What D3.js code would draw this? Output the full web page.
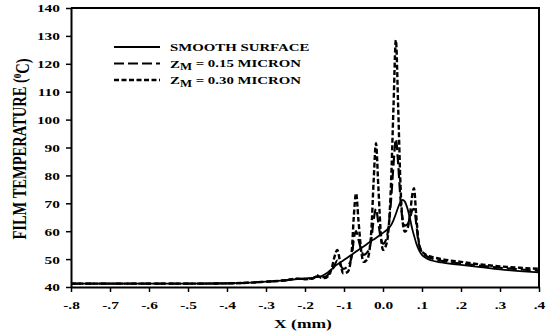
<!DOCTYPE html>
<html>
<head>
<meta charset="utf-8">
<script src="https://cdn.jsdelivr.net/npm/d3@7"></script>
<style>
  html, body { margin: 0; padding: 0; background: #fff; }
  svg { display: block; }
  text { font-family: "Liberation Serif", "Times New Roman", serif; font-weight: bold; fill: #000; }
</style>
</head>
<body>
<div id="chart"></div>
<script>
// x positions (mm), shared by all three series
const xs = [-0.8, -0.7, -0.6, -0.5, -0.4, -0.35, -0.3, -0.25, -0.22, -0.2, -0.18, -0.17, -0.16, -0.15, -0.14,
  -0.13, -0.125, -0.117, -0.11, -0.102, -0.09, -0.08, -0.075, -0.069, -0.063, -0.055, -0.05, -0.04, -0.03,
  -0.024, -0.018, -0.012, -0.005, 0.0, 0.01, 0.02, 0.027, 0.033, 0.039, 0.045, 0.05, 0.056, 0.063, 0.07,
  0.075, 0.0795, 0.085, 0.09, 0.095, 0.1, 0.11, 0.125, 0.15, 0.2, 0.25, 0.3, 0.35, 0.4];

// film temperature (C)
const smooth = [41.2, 41.2, 41.2, 41.2, 41.3, 41.5, 41.9, 42.4, 42.8, 43.1, 43.3, 43.5, 43.8, 44.5, 45.4,
  46.6, 47.2, 48.1, 48.8, 49.5, 50.7, 51.6, 52.1, 52.7, 53.3, 54.0, 54.5, 55.5, 56.5,
  57.0, 57.6, 58.2, 58.9, 59.4, 60.5, 62.0, 64.0, 66.2, 68.6, 70.5, 71.2, 70.6, 68.0, 64.0,
  60.8, 58.5, 55.8, 53.9, 52.5, 51.5, 50.4, 49.5, 48.8, 47.9, 47.1, 46.3, 45.7, 45.2];

const zm015 = [41.2, 41.2, 41.2, 41.2, 41.3, 41.5, 41.9, 42.4, 42.9, 42.9, 43.1, 43.8, 43.5, 43.6, 44.5,
  46.0, 47.5, 49.5, 48.0, 46.5, 47.5, 51.0, 57.0, 60.0, 57.0, 53.0, 51.5, 52.5, 57.0,
  64.0, 68.0, 63.0, 57.0, 55.5, 58.0, 70.0, 84.0, 93.0, 84.0, 71.0, 64.5, 62.0, 62.5, 65.0,
  67.5, 68.0, 63.0, 57.0, 54.0, 52.5, 51.2, 50.2, 49.4, 48.4, 47.6, 46.9, 46.3, 45.8];

const zm030 = [41.2, 41.2, 41.2, 41.2, 41.3, 41.5, 41.9, 42.4, 43.0, 42.8, 43.0, 44.2, 43.4, 43.2, 44.0,
  47.5, 50.5, 53.3, 49.0, 44.9, 45.5, 53.0, 65.0, 73.6, 64.0, 52.0, 49.0, 50.0, 60.0,
  78.0, 91.5, 76.0, 58.0, 53.3, 56.0, 75.0, 105.0, 128.5, 104.0, 76.0, 64.0, 59.8, 61.0, 67.0,
  73.0, 75.4, 66.0, 58.0, 54.0, 52.8, 51.6, 50.8, 50.0, 49.0, 48.1, 47.4, 46.9, 46.5];

const xTicks = [-0.8, -0.7, -0.6, -0.5, -0.4, -0.3, -0.2, -0.1, 0.0, 0.1, 0.2, 0.3, 0.4];
const xTickLabels = ["-.8", "-.7", "-.6", "-.5", "-.4", "-.3", "-.2", "-.1", "0.0", ".1", ".2", ".3", ".4"];
const yTicks = [40, 50, 60, 70, 80, 90, 100, 110, 120, 130, 140];

const series = [
  { values: smooth, dash: null, width: 1.8 },
  { values: zm015, dash: "10,4", width: 2.2 },
  { values: zm030, dash: "5,2.5", width: 2.4 }
];

const W = 547, H = 336;
const SX = 1.4; // text in the picture is stretched horizontally

const x = d3.scaleLinear().domain([-0.8, 0.4]).range([71, 539]);
const y = d3.scaleLinear().domain([40, 140]).range([287, 8]);

const svg = d3.select("#chart").append("svg")
  .attr("width", W)
  .attr("height", H);

// frame (top and right)
svg.append("path")
  .attr("d", `M${x.range()[0]},${y.range()[1]}H${x.range()[1]}V${y.range()[0]}`)
  .attr("fill", "none")
  .attr("stroke", "#000")
  .attr("stroke-width", 2);

// curves
const line = d3.line()
  .x((d, i) => x(xs[i]))
  .y(d => y(d))
  .curve(d3.curveMonotoneX);

svg.append("g")
  .selectAll("path")
  .data(series)
  .join("path")
  .attr("d", d => line(d.values))
  .attr("fill", "none")
  .attr("stroke", "#000")
  .attr("stroke-width", d => d.width)
  .attr("stroke-dasharray", d => d.dash);

// x axis
const xAxis = svg.append("g")
  .attr("transform", `translate(0,${y.range()[0]})`)
  .call(d3.axisBottom(x).tickValues(xTicks).tickSize(5).tickSizeOuter(0)
    .tickFormat((d, i) => xTickLabels[i]));
xAxis.select(".domain").attr("stroke-width", 2);
xAxis.selectAll(".tick line").attr("stroke-width", 1.5);
xAxis.selectAll(".tick text")
  .attr("y", 0).attr("dy", null)
  .attr("transform", "translate(0,22) scale(" + SX + ",1)")
  .style("font-size", "11px")
  .style("font-family", "'Liberation Serif', serif")
  .style("font-weight", "bold");

// y axis
const yAxis = svg.append("g")
  .attr("transform", `translate(${x.range()[0]},0)`)
  .call(d3.axisLeft(y).tickValues(yTicks).tickSize(5).tickSizeOuter(0));
yAxis.select(".domain").attr("stroke-width", 2);
yAxis.selectAll(".tick line").attr("stroke-width", 1.5);
yAxis.selectAll(".tick text")
  .attr("x", 0).attr("dy", "0.36em")
  .attr("transform", "translate(-11,0) scale(" + SX + ",1)")
  .style("font-size", "11px")
  .style("font-family", "'Liberation Serif', serif")
  .style("font-weight", "bold");

// axis titles
svg.append("text")
  .attr("transform", "translate(303,328) scale(" + SX + ",1)")
  .attr("text-anchor", "middle")
  .style("font-size", "12.5px")
  .text("X (mm)");

const yTitle = svg.append("text")
  .attr("transform", "translate(26,149) rotate(-90) scale(1,1.25)")
  .attr("text-anchor", "middle")
  .style("font-size", "14.5px");
yTitle.append("tspan").text("FILM TEMPERATURE (");
yTitle.append("tspan").attr("dy", "-0.45em").style("font-size", "9px").text("0");
yTitle.append("tspan").attr("dy", "0.45em").text("C)");

// legend
const legendItems = [
  { s: series[0], main: "SMOOTH SURFACE", sub: null, rest: null },
  { s: series[1], main: "Z", sub: "M", rest: " = 0.15 MICRON" },
  { s: series[2], main: "Z", sub: "M", rest: " = 0.30 MICRON" }
];
const legend = svg.append("g");
legendItems.forEach((it, i) => {
  const ly = 47 + i * 16.5;
  legend.append("line")
    .attr("x1", 114).attr("x2", 160)
    .attr("y1", ly).attr("y2", ly)
    .attr("stroke", "#000")
    .attr("stroke-width", it.s.width)
    .attr("stroke-dasharray", it.s.dash);
  const t = legend.append("text")
    .attr("transform", `translate(170,${ly + 4}) scale(1.35,1)`)
    .style("font-size", "11px");
  t.append("tspan").text(it.main);
  if (it.sub) {
    t.append("tspan").attr("dy", "0.3em").style("font-size", "9.5px").text(it.sub);
    t.append("tspan").attr("dy", "-0.3em").text(it.rest);
  }
});
</script>
</body>
</html>
